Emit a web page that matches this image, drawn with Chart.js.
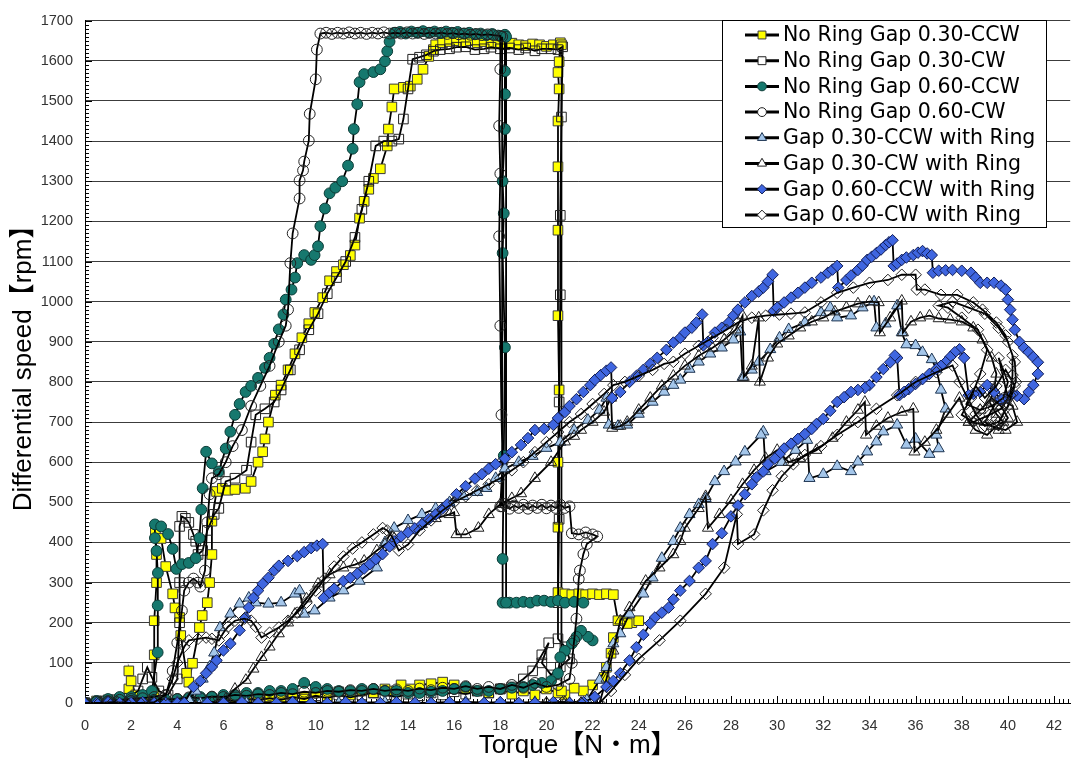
<!DOCTYPE html>
<html>
<head>
<meta charset="utf-8">
<title>Differential speed vs Torque</title>
<script src="https://cdn.jsdelivr.net/npm/chart.js@4.4.1/dist/chart.umd.min.js"></script>
<style>
  html, body { margin: 0; padding: 0; background: #fff; }
  #wrap { width: 1078px; height: 762px; position: relative; }
</style>
</head>
<body>
<div id="wrap"><canvas id="torqueChart"></canvas></div>
<script>
var xTicks = [0, 2, 4, 6, 8, 10, 12, 14, 16, 18, 20, 22, 24, 26, 28, 30, 32, 34, 36, 38, 40, 42];
var yTicks = [0, 100, 200, 300, 400, 500, 600, 700, 800, 900, 1000, 1100, 1200, 1300, 1400, 1500, 1600, 1700];

var seriesLabels = [
    'No Ring Gap 0.30-CCW',
    'No Ring Gap 0.30-CW',
    'No Ring Gap 0.60-CCW',
    'No Ring Gap 0.60-CW',
    'Gap 0.30-CCW with Ring',
    'Gap 0.30-CW with Ring',
    'Gap 0.60-CCW with Ring',
    'Gap 0.60-CW with Ring'
];

// [torque N·m, speed rpm], null = break in the line
var noRing030CCW = [
    [0,0],[0.5,5],[1,8],[1.5,10],[1.9,35],[1.9,80],[2.0,55],[2.2,20],[2.6,15],[3.0,25],[3.0,120],[3.0,205],[3.1,300],[3.1,370],[3.05,430],
    [3.3,410],[3.5,340],[3.8,272],[3.9,237],[4.1,213],[4.15,168],[4.4,74],[4.5,52],[4.66,99],[4.96,188],[5.08,218],[5.3,250],[5.4,300],
    [5.5,370],[5.5,453],[5.7,527],[5.95,535],[6.2,530],[6.5,532],[6.95,535],[7.2,552],[7.5,600],[7.7,626],[7.8,658],[7.95,700],[8.25,767],
    [8.5,792],[8.8,830],[9.1,870],[9.4,910],[9.7,945],[9.96,973],[10.3,1010],[10.6,1052],[10.9,1075],[11.2,1092],[11.5,1115],[11.7,1141],
    [11.9,1208],[12.1,1250],[12.3,1280],[12.5,1307],[12.8,1331],[13.1,1388],[13.15,1430],[13.3,1485],[13.4,1530],[13.8,1534],[14.1,1537],
    [14.4,1554],[14.65,1579],[14.9,1611],[15.1,1628],[15.2,1640],[15.5,1645],[15.8,1648],[16.1,1650],[16.4,1646],[16.7,1650],[17.0,1645],
    [17.3,1648],[17.6,1642],[17.9,1645],[18.2,1640],[18.5,1644],[18.8,1640],[19.1,1638],[19.4,1642],[19.7,1640],[20.0,1636],[20.3,1640],
    [20.6,1645],[20.55,1598],[20.5,1571],[20.55,1530],[20.5,1450],[20.5,1336],[20.5,1178],[20.5,965],[20.55,780],[20.5,600],[20.5,438],
    [20.5,275],[20.8,272],[21.1,270],[21.4,272],[21.7,270],[22.0,272],[22.3,270],[22.6,272],[22.9,270],[23.1,205],[23.4,205],[23.7,200],
    [24.0,205],[23.5,198],[22.9,163],[22.8,124],[22.6,89],[22.5,64],[22.0,45],[21.6,30],[21.2,37],[20.8,20],[20.5,25],[20.0,35],[19.5,20],
    [19.0,30],[18.5,22],[18.0,35],[17.5,25],[17.0,30],[16.5,35],[16.0,45],[15.5,52],[15.0,48],[14.5,45],[14.1,35],[13.7,45],[13.3,30],
    [13.0,35],[12.5,25],[12.0,30],[11.5,20],[11.0,28],[10.5,18],[10.0,25],[9.5,15],[9.0,20],[8.5,12],[8.0,15],[7.5,10],[7.0,12],[6.5,8],
    [6.0,10],[5.5,6],[5.0,8],[4.5,4],[4.0,5],[3.5,4],[3.0,3],[2.0,3],[1.0,2],[0,0],
    null,
    [20.65,30],[20.65,1640]
];

var noRing030CW = [
    [0,0],[0.6,5],[1.2,8],[1.8,12],[2.3,30],[2.5,60],[2.7,89],[2.9,64],[3.2,30],[3.6,20],[4.0,60],[4.1,200],[4.1,300],[4.1,440],[4.2,465],
    [4.35,460],[4.5,450],[4.7,420],[4.8,403],[4.9,370],[5.1,380],[5.3,430],[5.6,470],[5.8,485],[6.1,552],[6.5,560],[7.0,580],[7.2,650],
    [7.4,718],[7.8,733],[8.2,750],[8.5,780],[8.9,830],[9.3,880],[9.7,930],[10.1,970],[10.5,1020],[10.9,1060],[11.3,1100],[11.7,1160],
    [12.0,1230],[12.3,1300],[12.6,1388],[12.95,1400],[13.3,1400],[13.6,1405],[13.8,1455],[14.0,1530],[14.2,1604],[14.5,1609],[14.8,1615],
    [15.1,1624],[15.4,1628],[15.8,1630],[16.1,1634],[16.5,1635],[16.9,1628],[17.3,1630],[17.6,1634],[18.0,1630],[18.4,1632],[18.8,1628],
    [19.1,1632],[19.5,1625],[19.8,1630],[20.2,1630],[20.5,1628],[20.7,1635],[20.65,1460],[20.6,1215],[20.6,1017],[20.55,750],[20.55,458],
    [20.5,250],[20.5,160],[20.8,140],[21.0,110],[20.6,90],[20.2,70],[19.8,100],[20.1,150],[19.8,120],[19.4,80],[19.0,60],[18.5,40],
    [18.0,35],[17.5,25],[17.0,30],[16.5,22],[16.0,28],[15.5,20],[15.0,25],[14.5,18],[14.0,22],[13.5,15],[13.0,20],[12.5,25],[12.0,20],
    [11.5,14],[11.0,20],[10.5,12],[10.0,18],[9.5,10],[9.0,15],[8.5,8],[8.0,12],[7.5,7],[7.0,10],[6.5,5],[6.0,8],[5.5,10],[5.0,8],[4.5,3],
    [4.0,5],[3.0,3],[2.0,2],[1.0,0],[0,0]
];

var noRing060CCW = [
    [0,0],[0.5,5],[1,10],[1.5,15],[2,15],[2.5,20],[2.9,30],[3.15,126],[3.15,243],[3.16,324],[3.1,379],[3.03,411],[3.03,445],[3.3,440],
    [3.6,421],[3.8,384],[3.96,334],[4.2,346],[4.5,349],[4.8,361],[4.96,411],[5.04,482],[5.1,535],[5.25,626],[5.5,597],[5.8,577],[6.1,634],
    [6.3,676],[6.5,718],[6.7,745],[6.96,775],[7.2,790],[7.5,810],[7.8,835],[8.0,860],[8.2,895],[8.4,931],[8.6,968],[8.7,1005],[8.95,1030],
    [9.1,1060],[9.2,1096],[9.5,1116],[9.8,1104],[9.95,1116],[10.1,1138],[10.2,1188],[10.4,1232],[10.6,1270],[10.85,1284],[11.15,1300],
    [11.4,1339],[11.6,1381],[11.65,1430],[11.8,1492],[11.9,1547],[12.1,1567],[12.5,1572],[12.8,1579],[13.0,1599],[13.1,1624],[13.2,1648],
    [13.4,1670],[13.65,1672],[13.9,1668],[14.15,1673],[14.4,1670],[14.65,1674],[14.9,1670],[15.15,1673],[15.4,1669],[15.65,1673],
    [15.9,1670],[16.15,1672],[16.4,1668],[16.65,1670],[16.9,1666],[17.15,1668],[17.4,1664],[17.65,1667],[17.9,1663],[18.2,1665],
    [18.2,1574],[18.2,1517],[18.2,1430],[18.1,1300],[18.15,1220],[18.1,1121],[18.2,886],[18.15,616],[18.1,359],[18.1,250],[18.4,250],
    [18.7,250],[19.0,252],[19.3,250],[19.6,255],[19.9,255],[20.2,252],[20.5,255],[20.8,250],[21.2,252],[21.6,250],
    null,
    [22.0,156],[21.8,165],[21.5,180],[21.3,165],[21.1,148],[20.8,130],[20.6,114],[20.5,74],[20.2,55],[19.8,50],[19.4,45],[19.0,40],
    [18.5,38],[18.0,35],[17.5,30],[17.0,30],[16.5,40],[16.0,35],[15.5,30],[15.0,28],[14.5,25],[14.0,25],[13.5,30],[13.0,30],[12.5,35],
    [12.0,35],[11.5,30],[11.0,30],[10.5,35],[10.0,40],[9.5,50],[9.0,35],[8.5,30],[8.0,30],[7.5,25],[7.0,25],[6.5,20],[6.0,20],[5.5,15],
    [5.0,15],[4.5,12],[4.0,10],[3.5,8],[3.0,5],[2.0,5],[1.0,0],[0,0],
    null,
    [18.25,250],[18.25,1660]
];

var noRing060CW = [
    [0,0],[0.5,3],[1,5],[1.5,8],[2,10],[2.5,12],[3,15],[3.5,20],[3.8,80],[4.0,150],[4.2,230],[4.3,280],[4.5,300],[4.7,310],[4.9,300],
    [5.0,290],[5.2,330],[5.3,450],[5.4,520],[5.5,560],[5.8,570],[6.1,600],[6.4,640],[6.8,680],[7.2,740],[7.6,790],[8.0,840],[8.4,900],
    [8.7,940],[8.8,980],[8.9,1096],[9.0,1170],[9.3,1257],[9.3,1302],[9.45,1327],[9.5,1349],[9.7,1401],[9.74,1468],[10.0,1554],[10.05,1628],
    [10.2,1668],[10.45,1670],[10.7,1667],[10.95,1670],[11.2,1668],[11.45,1671],[11.7,1668],[11.95,1670],[12.2,1667],[12.45,1670],
    [12.7,1668],[12.95,1671],[13.2,1668],[13.45,1670],[13.7,1668],[13.95,1671],[14.2,1668],[14.45,1670],[14.7,1667],[14.95,1670],
    [15.2,1668],[15.45,1670],[15.7,1667],[15.95,1669],[16.2,1666],[16.45,1668],[16.7,1665],[16.95,1667],[17.2,1664],[17.45,1666],
    [17.7,1664],[18.0,1662],[18.0,1579],[17.95,1438],[18.0,1319],[17.95,1163],[18.0,940],[18.05,718],[18.1,600],[18.0,490],[18.2,496],
    [18.4,484],[18.6,492],[18.8,486],[19.0,494],[19.2,484],[19.4,492],[19.6,486],[19.8,494],[20.0,485],[20.2,492],[20.4,486],[20.6,494],
    [20.8,486],[21.0,490],[21.1,423],[21.4,420],[21.7,425],[22.0,420],[22.2,415],[21.75,396],[21.6,371],[21.45,330],[21.4,309],[21.3,210],
    [21.2,156],[21.1,100],[21.0,60],[20.5,45],[20.0,40],[19.5,50],[19.0,38],[18.5,45],[18.0,35],[17.5,40],[17.0,35],[16.5,42],[16.0,35],
    [15.5,38],[15.0,32],[14.5,36],[14.0,30],[13.5,34],[13.0,30],[12.5,35],[12.0,30],[11.5,32],[11.0,28],[10.5,30],[10.0,25],[9.5,28],
    [9.0,22],[8.5,25],[8.0,20],[7.5,22],[7.0,18],[6.5,20],[6.0,15],[5.5,16],[5.0,12],[4.5,14],[4.0,10],[3.0,8],[2.0,5],[1.0,3],[0,0],
    null,
    [18.08,490],[18.08,1660]
];

var ring030CCW = [
    [0,0],[1,0],[2,2],[3,0],[4,2],[4.5,8],[4.8,30],[5.1,60],[5.4,90],[5.6,125],[5.85,188],[6.3,222],[6.7,247],[7.1,262],[7.4,250],
    [7.95,247],[8.5,250],[9.1,272],[9.3,280],[9.5,222],[9.95,230],[10.6,262],[11.2,280],[11.9,304],[12.65,337],[13.0,400],[13.4,436],
    [14.0,455],[14.6,470],[15.2,485],[15.8,500],[16.4,515],[17.0,525],[17.4,535],[17.8,560],[18.2,584],[18.8,600],[19.4,615],[20.0,635],
    [20.6,650],[21.2,680],[21.8,705],[22.3,730],[22.6,760],[22.7,693],[23.1,690],[23.5,693],[24.0,720],[24.6,750],[25.1,775],[25.5,792],
    [25.8,805],[26.2,832],[26.6,850],[27.1,870],[27.6,885],[28.1,905],[28.4,925],[28.5,812],[28.9,830],[29.2,850],[29.7,881],[30.1,910],
    [30.5,931],[31.2,948],[31.9,973],[32.3,985],[32.6,960],[33.2,965],[33.7,985],[34.2,1000],[34.3,935],[34.7,945],[35.2,990],[35.4,923],
    [35.6,893],[36.0,891],[36.3,874],[36.7,856],[36.9,832],[37.1,780],[37.3,733],[36.9,668],[37.0,634],[36.6,620],[36.0,658],[35.6,643],
    [35.2,693],[34.6,676],[34.3,651],[33.9,626],[33.5,601],[33.2,577],[32.6,590],[32.0,570],[31.4,560],[31.3,655],[30.8,630],[30.2,600],
    [29.5,577],[29.4,676],[29.3,668],[28.6,626],[28.2,601],[27.7,577],[27.3,552],[26.9,510],[26.6,495],[26.2,470],[25.8,436],[25.5,403],
    [25.0,361],[24.6,312],[24.2,272],[23.6,222],[23.2,173],[22.9,148],[22.6,89],[22.3,57],[21.75,7],[21.0,0],[19.5,2],[18.0,0],[16.5,3],
    [15.0,0],[13.0,2],[11.0,0],[9.0,2],[7.0,0],[5.0,0]
];

var ring030CW = [
    [0,0],[0.7,0],[1.4,2],[2.1,0],[2.8,0],[3.5,2],[4.2,0],[4.9,0],[5.5,2],[5.8,2],[6.1,10],[6.5,35],[6.97,57],[7.3,85],[7.65,114],
    [8.0,140],[8.4,173],[8.8,200],[9.1,222],[9.6,260],[10.1,297],[10.6,320],[11.2,337],[11.7,345],[12.1,354],[12.65,380],[13.0,395],
    [13.4,410],[14.0,430],[14.6,445],[15.2,460],[15.8,470],[16.0,475],[16.1,420],[16.5,420],[17.05,436],[17.5,470],[18.0,495],[18.5,510],
    [18.9,522],[19.5,560],[20.2,600],[20.8,651],[21.2,665],[21.5,680],[22.0,700],[22.5,725],[22.8,760],[22.85,685],[23.2,690],[23.5,700],
    [24.0,730],[24.5,760],[25.0,790],[25.5,815],[26.0,840],[26.6,865],[27.2,885],[27.7,905],[28.2,930],[28.5,965],[28.55,812],[28.9,840],
    [29.2,960],[29.25,800],[29.6,860],[30.0,895],[30.5,915],[31.0,935],[31.5,950],[32.0,960],[32.5,975],[33.0,985],[33.5,995],[34.0,1000],
    [34.4,998],[34.45,923],[34.9,960],[35.4,1002],[35.45,923],[35.8,950],[36.2,960],[36.6,965],[37.0,958],[37.5,955],[38.0,950],[38.5,935],
    [38.9,905],[39.3,860],[39.5,820],[39.4,780],[39.2,750],[39.5,720],[39.8,700],[39.5,690],[39.1,668],[38.6,680],[38.3,700],[38.8,730],
    [39.3,760],[39.7,740],[40.0,710],[39.6,680],[39.0,700],[39.6,760],[40.2,740],[40.4,700],[39.9,680],[39.3,690],[38.3,700],[37.9,760],
    [37.4,720],[36.9,680],[36.4,650],[35.95,626],[35.9,733],[35.4,725],[34.8,710],[34.3,690],[33.85,668],[33.8,750],[33.5,730],[33.0,700],
    [32.4,660],[31.7,630],[31.0,610],[30.5,600],[30.0,630],[29.5,610],[29.0,580],[28.5,545],[28.0,505],[27.5,470],[27.0,436],[26.9,515],
    [26.6,485],[26.0,436],[25.8,403],[25.5,370],[24.9,337],[24.3,304],[23.6,238],[23.2,205],[22.9,130],[22.6,60],[22.3,0],[21.5,0],
    [20.8,2],[20,0]
];

var ring060CCW = [
    [0,0],[0.5,0],[1,2],[1.5,0],[2,0],[2.5,2],[3,0],[3.5,0],[4,0],[4.3,0],[4.7,40],[5.0,55],[5.25,74],[5.5,90],[5.7,106],[6.0,131],
    [6.3,148],[6.7,181],[6.95,213],[7.1,238],[7.3,262],[7.5,280],[7.7,297],[7.95,312],[8.2,330],[8.4,342],[8.8,354],[9.2,366],[9.5,376],
    [9.8,386],[10.05,392],[10.3,396],[10.35,262],[10.6,275],[10.8,285],[11.2,304],[11.5,312],[11.8,322],[12.1,335],[12.35,346],[12.6,358],
    [12.9,371],[13.2,390],[13.4,403],[13.7,415],[14.0,425],[14.3,435],[14.6,445],[14.9,458],[15.2,470],[15.5,485],[15.7,495],[16.1,520],
    [16.5,540],[16.9,559],[17.2,570],[17.5,584],[17.8,595],[18.2,609],[18.5,625],[18.9,643],[19.2,660],[19.5,680],[19.9,683],[20.3,693],
    [20.5,710],[20.8,725],[21.0,740],[21.3,757],[21.6,775],[21.9,792],[22.1,805],[22.35,817],[22.6,828],[22.8,836],[22.85,760],[23.2,775],
    [23.6,800],[23.9,815],[24.2,830],[24.5,845],[24.8,860],[25.2,880],[25.5,898],[25.8,910],[26.0,923],[26.3,935],[26.5,948],[26.75,968],
    [26.8,891],[27.0,900],[27.3,923],[27.6,935],[27.9,948],[28.1,965],[28.3,980],[28.6,998],[28.9,1014],[29.2,1025],[29.4,1035],[29.6,1050],
    [29.8,1067],[29.85,977],[30.0,985],[30.3,998],[30.6,1010],[30.9,1022],[31.2,1035],[31.5,1047],[31.9,1060],[32.2,1072],[32.4,1080],
    [32.6,1089],[32.65,1035],[33.0,1054],[33.2,1065],[33.5,1079],[33.7,1090],[33.9,1104],[34.1,1112],[34.3,1121],[34.5,1130],[34.7,1141],
    [34.85,1148],[35.0,1153],[35.05,1089],[35.2,1095],[35.4,1104],[35.6,1110],[35.9,1116],[36.1,1122],[36.3,1126],[36.5,1120],[36.7,1116],
    [36.75,1072],[37.0,1077],[37.3,1078],[37.6,1079],[38.0,1077],[38.4,1072],[38.6,1060],[38.8,1047],[39.1,1047],[39.4,1047],[39.7,1040],
    [39.9,1030],[40.0,1005],[40.1,980],[40.2,955],[40.3,930],[40.5,900],[40.7,885],[40.9,874],[41.1,862],[41.3,849],[41.3,820],[41.1,792],
    [40.9,775],[40.7,757],[40.4,765],[40.2,770],[39.9,760],[39.7,757],[39.4,775],[39.1,792],[38.8,775],[38.5,770],[38.3,767],[38.1,860],
    [37.9,881],[37.7,874],[37.5,862],[37.3,849],[37.1,840],[36.9,832],[36.6,820],[36.3,807],[36.0,795],[35.7,782],[35.5,775],[35.3,767],
    [35.2,860],[35.1,866],[34.9,849],[34.6,832],[34.3,812],[34.0,792],[33.8,785],[33.5,780],[33.2,775],[32.9,762],[32.6,750],[32.3,728],
    [32.0,708],[31.7,695],[31.5,683],[31.2,670],[30.9,658],[30.6,646],[30.3,634],[30.1,620],[29.9,609],[29.6,595],[29.4,577],[29.1,562],
    [28.9,545],[28.6,520],[28.3,492],[28.0,465],[27.6,423],[27.2,396],[26.9,354],[26.6,337],[26.2,304],[25.8,280],[25.5,258],[25.3,238],
    [25.0,225],[24.7,213],[24.5,198],[24.2,170],[23.9,139],[23.6,106],[23.2,74],[22.9,55],[22.6,40],[22.1,15],[21.6,2],[21,0],[20.3,2],
    [19.5,0],[18.8,0],[18,2],[17.3,0],[16.5,0],[15.8,2],[15,0],[14.3,0],[13.5,2],[12.8,0],[12,0],[11.3,2],[10.5,0],[9.8,0],[9,2],[8.3,0],
    [7.5,0],[6.8,2],[6,0],[5.3,0]
];

var ring060CW = [
    [0,0],[0.6,0],[1.2,2],[1.8,0],[2.4,0],[3.0,2],[3.5,20],[3.8,60],[4.0,100],[4.3,140],[4.5,156],[4.9,160],[5.25,163],[5.5,160],
    [5.8,156],[6.0,175],[6.2,190],[6.5,205],[6.9,210],[7.2,205],[7.4,190],[7.65,163],[8.0,175],[8.4,188],[8.8,205],[9.2,225],[9.6,250],
    [10.0,280],[10.4,310],[10.8,340],[11.2,365],[11.6,385],[12.0,400],[12.5,420],[12.9,436],[13.1,430],[13.3,415],[13.6,380],[14.0,395],
    [14.5,430],[15.0,455],[15.5,480],[16.0,500],[16.5,515],[17.0,530],[17.5,545],[18.0,560],[18.5,580],[19.0,600],[19.5,625],[20.0,650],
    [20.5,675],[21.0,700],[21.5,720],[22.0,745],[22.5,770],[22.9,792],[23.4,800],[24.0,815],[24.6,830],[25.1,845],[25.5,850],[26.0,870],
    [26.6,890],[27.2,910],[27.8,930],[28.3,948],[28.9,960],[29.5,965],[30.1,968],[30.6,970],[31.2,973],[31.9,998],[32.6,1022],[33.3,1035],
    [34.0,1047],[34.8,1054],[35.4,1067],[36.0,1067],[36.05,1030],[36.4,1030],[37.1,1017],[37.8,1017],[38.5,998],[38.9,980],[39.5,948],
    [39.9,916],[40.2,866],[40.2,817],[40.1,767],[39.7,733],[39.2,718],[38.5,700],[38.0,718],[38.4,760],[38.8,820],[39.1,880],[38.7,930],
    [38.0,960],[37.4,985],[37.0,990],[37.6,1000],[38.3,985],[39.0,970],[39.6,935],[40.0,900],[40.3,850],[40.35,800],[40.0,760],[39.6,860],
    [40.0,800],[39.8,760],[39.3,740],[38.8,730],[38.2,745],[38.6,790],[39.0,760],[39.5,790],[39.9,830],[40.3,790],[40.0,740],[39.6,700],
    [39.0,690],[38.6,720],[37.9,800],[37.6,841],[36.9,824],[36.0,800],[35.2,767],[34.3,733],[33.5,700],[32.6,668],[31.9,640],[31.2,618],
    [30.7,595],[30.2,565],[29.8,530],[29.4,480],[29.0,420],[28.3,396],[28.25,470],[27.7,337],[26.9,272],[25.8,205],[24.9,156],[24.0,110],
    [23.4,70],[22.8,30],[22.3,0],[21.5,0],[20.7,2],[20,0]
];

var seriesData = [noRing030CCW, noRing030CW, noRing060CCW, noRing060CW, ring030CCW, ring030CW, ring060CCW, ring060CW];

var seriesStyles = [
    { shape: 'rect', radius: 6.8, fill: '#ffff00', edge: '#3a3a3a' },
    { shape: 'rect', radius: 6.8, fill: 'rgba(255,255,255,0)', edge: '#222' },
    { shape: 'circle', radius: 5.4, fill: '#16786e', edge: '#0b3b36' },
    { shape: 'circle', radius: 5.4, fill: 'rgba(255,255,255,0)', edge: '#222' },
    { shape: 'triangle', radius: 6.4, fill: '#a4c6ea', edge: '#1e3552' },
    { shape: 'triangle', radius: 6.4, fill: 'rgba(255,255,255,0)', edge: '#222' },
    { shape: 'rectRot', radius: 5.8, fill: '#3f66e0', edge: '#101c55' },
    { shape: 'rectRot', radius: 5.8, fill: 'rgba(255,255,255,0)', edge: '#222' }
];

var tickFont = { family: '"Liberation Sans", Arial, sans-serif', size: 14.5 };
var titleFont = { family: '"Liberation Sans", Arial, "Noto Sans CJK JP", sans-serif', size: 26 };

function toPoints(arr) {
    return arr.map(function(p) {
        return p ? { x: p[0], y: p[1] } : { x: null, y: null };
    });
}

// small inward ticks on both axes, like the original plot
var minorTicks = {
    id: 'minorTicks',
    beforeDatasetsDraw: function(chart) {
        var ctx = chart.ctx;
        var area = chart.chartArea;
        var xs = chart.scales.x;
        var ys = chart.scales.y;
        ctx.save();
        ctx.strokeStyle = '#000';
        ctx.lineWidth = 1;
        ctx.beginPath();
        for (var v = 0; v <= 1700; v += 10) {
            var py = Math.round(ys.getPixelForValue(v)) + 0.5;
            var ly = (v % 100 === 0) ? 7 : 4;
            ctx.moveTo(area.left, py);
            ctx.lineTo(area.left + ly, py);
        }
        for (var i = 0; i <= 213; i++) {
            var px = Math.round(xs.getPixelForValue(i * 0.2)) + 0.5;
            if (px > area.right) break;
            var lx = (i % 10 === 0) ? 7 : 4;
            ctx.moveTo(px, area.bottom);
            ctx.lineTo(px, area.bottom - lx);
        }
        ctx.stroke();
        ctx.restore();
    }
};

// legend box inside the plot, top right
var legendBox = {
    id: 'legendBox',
    afterDraw: function(chart) {
        var ctx = chart.ctx;
        var left = 722, top = 20, width = 324, height = 207, rowH = 25.7;
        ctx.save();
        ctx.fillStyle = '#fff';
        ctx.fillRect(left, top, width, height);
        ctx.strokeStyle = '#000';
        ctx.lineWidth = 1;
        ctx.strokeRect(left + 0.5, top + 0.5, width, height);

        chart.data.datasets.forEach(function(ds, i) {
            var st = seriesStyles[i];
            var cy = top + 15 + i * rowH;
            ctx.strokeStyle = '#000';
            ctx.lineWidth = 3;
            ctx.beginPath();
            ctx.moveTo(745, cy);
            ctx.lineTo(779, cy);
            ctx.stroke();

            ctx.fillStyle = st.fill.indexOf('rgba') === 0 ? '#fff' : st.fill;
            ctx.strokeStyle = st.edge;
            ctx.lineWidth = 1;
            Chart.helpers.drawPoint(ctx, { pointStyle: st.shape, radius: st.radius * 0.82, rotation: 0, borderWidth: 1 }, 762, cy);

            ctx.fillStyle = '#000';
            ctx.font = '20.5px "DejaVu Sans", sans-serif';
            ctx.textBaseline = 'middle';
            ctx.textAlign = 'left';
            ctx.fillText(ds.label, 783, cy + 1);
        });
        ctx.restore();
    }
};

var datasets = seriesData.map(function(arr, i) {
    var st = seriesStyles[i];
    return {
        label: seriesLabels[i],
        data: toPoints(arr),
        showLine: true,
        spanGaps: false,
        borderColor: '#000',
        borderWidth: 1.8,
        pointStyle: st.shape,
        pointRadius: st.radius,
        pointHoverRadius: st.radius,
        pointBackgroundColor: st.fill,
        pointBorderColor: st.edge,
        pointBorderWidth: 1,
        order: seriesData.length - 1 - i
    };
});

var ctx = document.getElementById('torqueChart').getContext('2d');
var torqueChart = new Chart(ctx, {
    type: 'scatter',
    data: { datasets: datasets },
    options: {
        responsive: true,
        maintainAspectRatio: false,
        animation: false,
        layout: { padding: { top: 16, right: 1, left: 0, bottom: 0 } },
        plugins: {
            legend: { display: false },
            tooltip: { enabled: false }
        },
        scales: {
            x: {
                type: 'linear',
                min: 0,
                max: 42.7,
                afterBuildTicks: function(scale) {
                    scale.ticks = xTicks.map(function(v) { return { value: v }; });
                },
                afterFit: function(scale) { scale.height = 59; },
                grid: { display: false },
                border: { display: true, color: '#000', width: 1 },
                ticks: {
                    padding: 6, color: '#333', font: tickFont, maxRotation: 0, autoSkip: false,
                    callback: function(value) { return String(value); }
                },
                title: {
                    display: true,
                    text: 'Torque【N・m】',
                    color: '#000',
                    font: titleFont,
                    padding: { top: 0, bottom: 1 }
                }
            },
            y: {
                type: 'linear',
                min: 0,
                max: 1700,
                afterBuildTicks: function(scale) {
                    scale.ticks = yTicks.map(function(v) { return { value: v }; });
                },
                afterFit: function(scale) { scale.width = 85; },
                grid: { color: '#3c3c3c', lineWidth: 1, drawTicks: false },
                border: { display: true, color: '#000', width: 1 },
                ticks: {
                    padding: 12, color: '#333', font: tickFont, autoSkip: false,
                    callback: function(value) { return String(value); }
                },
                title: {
                    display: true,
                    text: 'Differential speed【rpm】',
                    color: '#000',
                    font: titleFont,
                    padding: { top: 8, bottom: 0 }
                }
            }
        }
    },
    plugins: [minorTicks, legendBox]
});
</script>
</body>
</html>
